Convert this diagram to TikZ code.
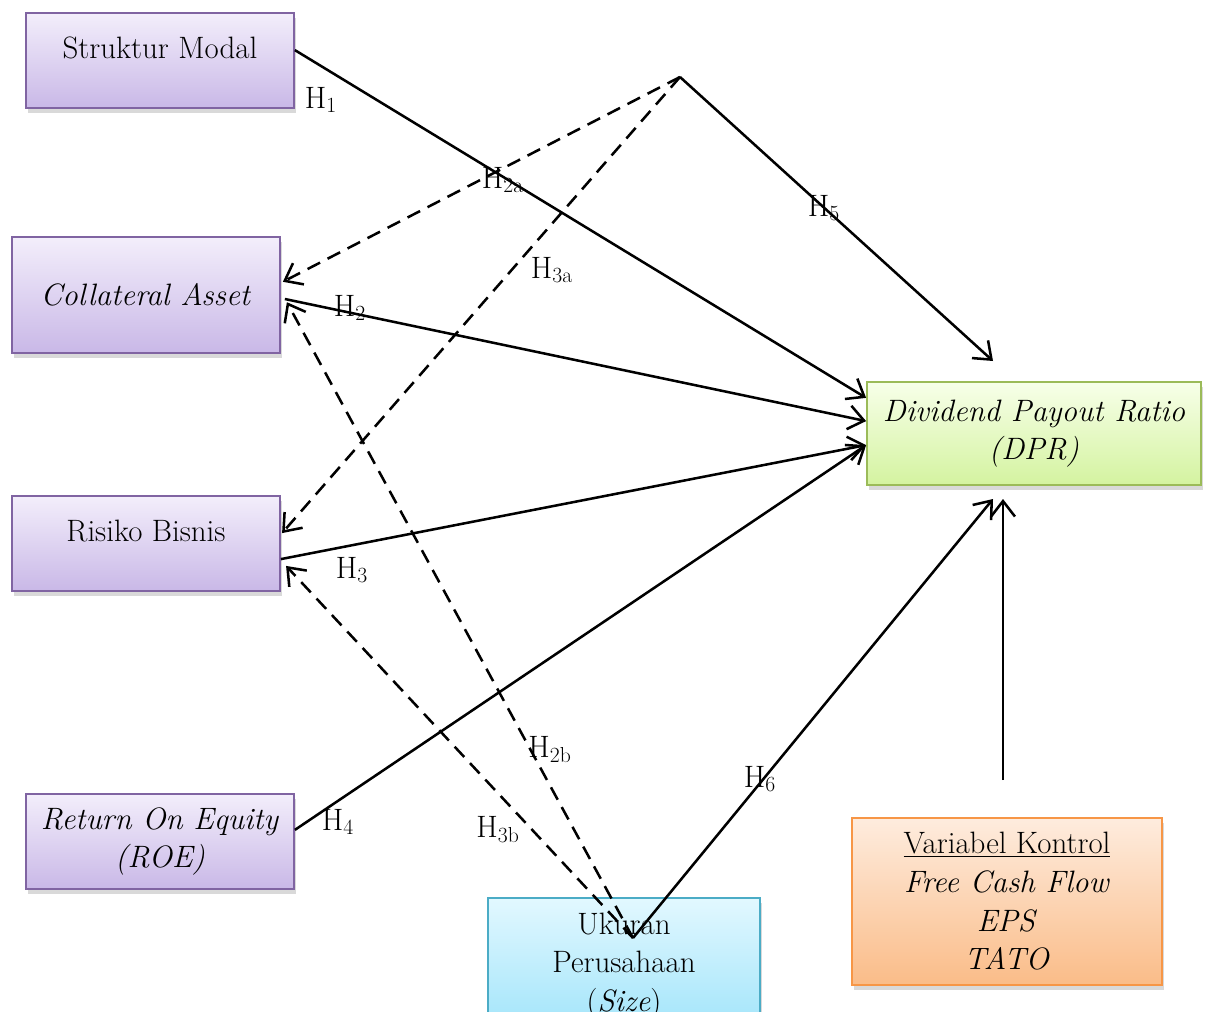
\documentclass[tikz,border=0pt]{standalone}
\usepackage{tikz}
\usetikzlibrary{arrows.meta,shadows}

\definecolor{lilacTop}{RGB}{243,238,251}
\definecolor{lilacBot}{RGB}{201,184,231}
\definecolor{lilacLine}{RGB}{128,100,162}
\definecolor{limeTop}{RGB}{247,255,233}
\definecolor{limeBot}{RGB}{212,243,160}
\definecolor{limeLine}{RGB}{155,187,89}
\definecolor{skyTop}{RGB}{226,248,255}
\definecolor{skyBot}{RGB}{160,228,250}
\definecolor{skyLine}{RGB}{75,172,198}
\definecolor{peachTop}{RGB}{254,236,222}
\definecolor{peachBot}{RGB}{250,188,136}
\definecolor{peachLine}{RGB}{247,150,70}

\begin{document}
\begin{tikzpicture}[
    x=0.025cm, y=-0.025cm,
    every node/.style={font=\fontsize{22}{27.5}\selectfont},
    box/.style={line width=1.2pt, align=center, drop shadow={shadow xshift=0.05cm, shadow yshift=-0.12cm, opacity=0.3}},
    var/.style={box, draw=lilacLine, top color=lilacTop, bottom color=lilacBot, minimum width=6.7cm, minimum height=2.375cm},
    raised/.style={text height=0.5cm, text depth=0.62cm},
    dep/.style={box, draw=limeLine, top color=limeTop, bottom color=limeBot, minimum width=8.35cm, minimum height=2.575cm},
    size/.style={box, draw=skyLine, top color=skyTop, bottom color=skyBot, minimum width=6.8cm, minimum height=3.4cm},
    ctrl/.style={box, draw=peachLine, top color=peachTop, bottom color=peachBot, minimum width=7.75cm, minimum height=4.175cm},
    arr/.style={-{Straight Barb[length=11pt,width=17pt]}, line width=1.8pt},
    darr/.style={arr, dash pattern=on 10pt off 6pt},
    lbl/.style={inner sep=0pt}
]
\useasboundingbox (0,0) rectangle (1210,1012);

\node[var, raised] (sm) at (160,60.5) {Struktur Modal};
\node[var, minimum height=2.9cm] (ca) at (146,295) {\textit{Collateral Asset}};
\node[var, raised] (rb) at (146,543.5) {Risiko Bisnis};
\node[var] (roe) at (160,841.5) {\textit{Return On Equity}\\\textit{(ROE)}};
\node[dep] (dpr) at (1034,433.5) {\textit{Dividend Payout Ratio}\\\textit{(DPR)}};
\node[size, anchor=north] (uk) at (624,897) {Ukuran\\Perusahaan\\(\textit{Size})};
\node[ctrl] (kv) at (1007,901.5) {\underline{Variabel Kontrol}\\\textit{Free Cash Flow}\\\textit{EPS}\\\textit{TATO}};

\coordinate (apex) at (680,77);
\coordinate (h5tip) at (993,361);
\coordinate (szo) at (633,938);
\coordinate (h6tip) at (993,499);
\coordinate (kbase) at (1003,780);
\coordinate (ktip) at (1003,499);

% jalur langsung ke DPR
\draw[arr] ([yshift=0.26cm]sm.east) -- ([yshift=0.89cm]dpr.west);
\draw[arr] ([xshift=0.1cm,yshift=-0.1cm]ca.east) -- ([yshift=0.31cm]dpr.west);
\draw[arr] ([yshift=-0.39cm]rb.east) -- ([yshift=-0.29cm]dpr.west);
\draw[arr] ([yshift=0.29cm]roe.east) -- ([yshift=-0.29cm]dpr.west);
\draw[arr] (apex) -- (h5tip);
\draw[arr] (szo) -- (h6tip);
\draw[arr] (kbase) -- (ktip);

% jalur moderasi
\draw[darr] (apex) -- ([xshift=0.05cm,yshift=0.33cm]ca.east);
\draw[darr] (apex) -- ([xshift=0.03cm,yshift=0.26cm]rb.east);
\draw[darr] (szo) -- ([xshift=0.15cm,yshift=-0.18cm]ca.east);
\draw[darr] (szo) -- ([xshift=0.13cm,yshift=-0.56cm]rb.east);

\node[lbl] (h1) at (321,100) {H\textsubscript{1}};
\node[lbl] (h2a) at (503,180) {H\textsubscript{2a}};
\node[lbl] (h5) at (824,208) {H\textsubscript{5}};
\node[lbl] (h3a) at (552,270) {H\textsubscript{3a}};
\node[lbl] (h2) at (350,308) {H\textsubscript{2}};
\node[lbl] (h3) at (352,570) {H\textsubscript{3}};
\node[lbl] (h2b) at (550,750) {H\textsubscript{2b}};
\node[lbl] (h6) at (760,779) {H\textsubscript{6}};
\node[lbl] (h4) at (338,822) {H\textsubscript{4}};
\node[lbl] (h3b) at (498,830) {H\textsubscript{3b}};
\end{tikzpicture}
\end{document}
